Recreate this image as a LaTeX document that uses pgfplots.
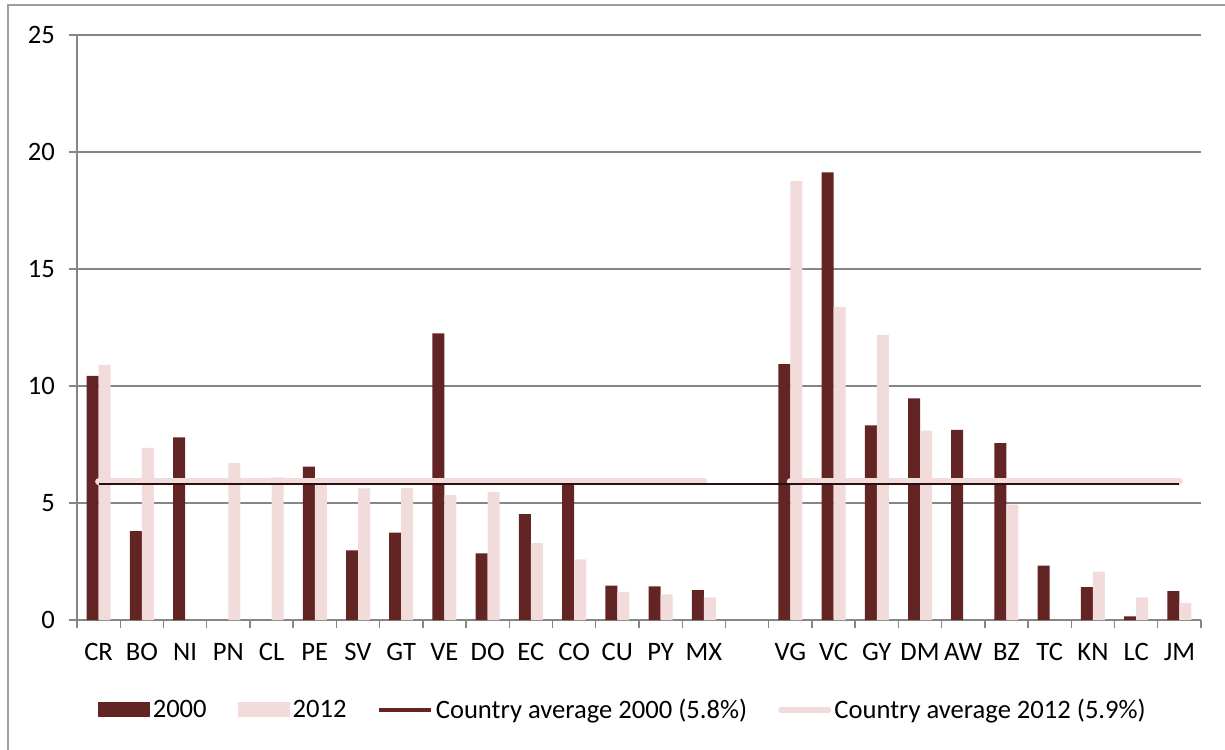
\documentclass[border=0pt]{standalone}
\usepackage{pgfplots}
\pgfplotsset{compat=1.18}
\usepackage{fontspec}
\setmainfont{Carlito}
\definecolor{darkbar}{HTML}{632523}
\definecolor{lightbar}{HTML}{F2DCDB}
\definecolor{gridgray}{HTML}{868686}
\definecolor{avgdark}{HTML}{2B0E0E}
\newcommand{\chartfont}{\fontsize{13.3}{16}\selectfont}

\begin{document}
\begin{tikzpicture}
\useasboundingbox (-38.5pt,-64.5pt) rectangle (574pt,310pt);
% chart frame (only left and top edges are visible in the crop)
\draw[gridgray!80, line width=0.8pt] (-34.5pt,-66pt) -- (-34.5pt,307.5pt) -- (576pt,307.5pt);
\begin{axis}[
    at={(0,0)}, anchor=south west,
    scale only axis, width=562pt, height=292.5pt,
    xmin=-0.5, xmax=25.5, ymin=0, ymax=25,
    axis x line*=bottom, axis y line*=left,
    axis line style={gridgray, line width=0.7pt, -},
    ytick={0,5,...,25},
    ymajorgrids, grid style={gridgray, line width=0.7pt},
    xtick={-0.5,0.5,...,25.5},
    xticklabels={CR,BO,NI,PN,CL,PE,SV,GT,VE,DO,EC,CO,CU,PY,MX,,VG,VC,GY,DM,AW,BZ,TC,KN,LC,JM,},
    xticklabel style={xshift=10.8pt, yshift=-4pt},
    yticklabel style={xshift=-3.5pt},
    tick align=outside, major tick length=4pt,
    tick style={gridgray, line width=0.7pt},
    ticklabel style={font=\chartfont},
    /pgf/number format/assume math mode=true,
    legend columns=4,
    legend style={at={(0.486,-0.1538)}, anchor=center, draw=none, fill=none,
        font=\chartfont, /tikz/every even column/.append style={column sep=14pt},
        nodes={inner sep=1.5pt}},
]
\addplot[ybar, bar width=6pt, bar shift=-3pt, fill=darkbar, draw=none,
    legend image code/.code={\fill[darkbar] (0pt,-3.75pt) rectangle (26pt,3.75pt);}]
    coordinates {
    (0,10.43)(1,3.8)(2,7.8)(5,6.55)(6,2.98)(7,3.73)(8,12.25)(9,2.85)(10,4.52)
    (11,5.8)(12,1.47)(13,1.44)(14,1.28)
    (16,10.93)(17,19.13)(18,8.32)(19,9.47)(20,8.12)(21,7.56)(22,2.32)(23,1.4)
    (24,0.16)(25,1.23)
    };
\addlegendentry{2000}
\addplot[ybar, bar width=6pt, bar shift=3pt, fill=lightbar, draw=none,
    legend image code/.code={\fill[lightbar] (0pt,-3.75pt) rectangle (26pt,3.75pt);}]
    coordinates {
    (0,10.9)(1,7.36)(3,6.7)(4,6.1)(5,5.85)(6,5.63)(7,5.64)(8,5.34)(9,5.46)
    (10,3.29)(11,2.59)(12,1.2)(13,1.1)(14,0.97)
    (16,18.75)(17,13.38)(18,12.19)(19,8.09)(21,4.93)(23,2.07)(24,0.97)(25,0.73)
    };
\addlegendentry{2012}
% 2012 country average, broken at the empty category
\addplot[lightbar, line width=3.5pt, line cap=round, forget plot]
    coordinates {(0,5.9)(14,5.9)};
\addplot[lightbar, line width=3.5pt, line cap=round, forget plot]
    coordinates {(16,5.9)(25,5.9)};
% 2000 country average
\addplot[avgdark, line width=1pt,
    legend image code/.code={\draw[darkbar, line width=1.6pt] (0pt,0pt) -- (26pt,0pt);}]
    coordinates {(0,5.8)(25,5.8)};
\addlegendentry{Country average 2000 (5.8\%)}
\addlegendimage{legend image code/.code={\draw[lightbar, line width=2.6pt, line cap=round] (1pt,0pt) -- (25pt,0pt);}}
\addlegendentry{Country average 2012 (5.9\%)}
\end{axis}
\end{tikzpicture}
\end{document}
